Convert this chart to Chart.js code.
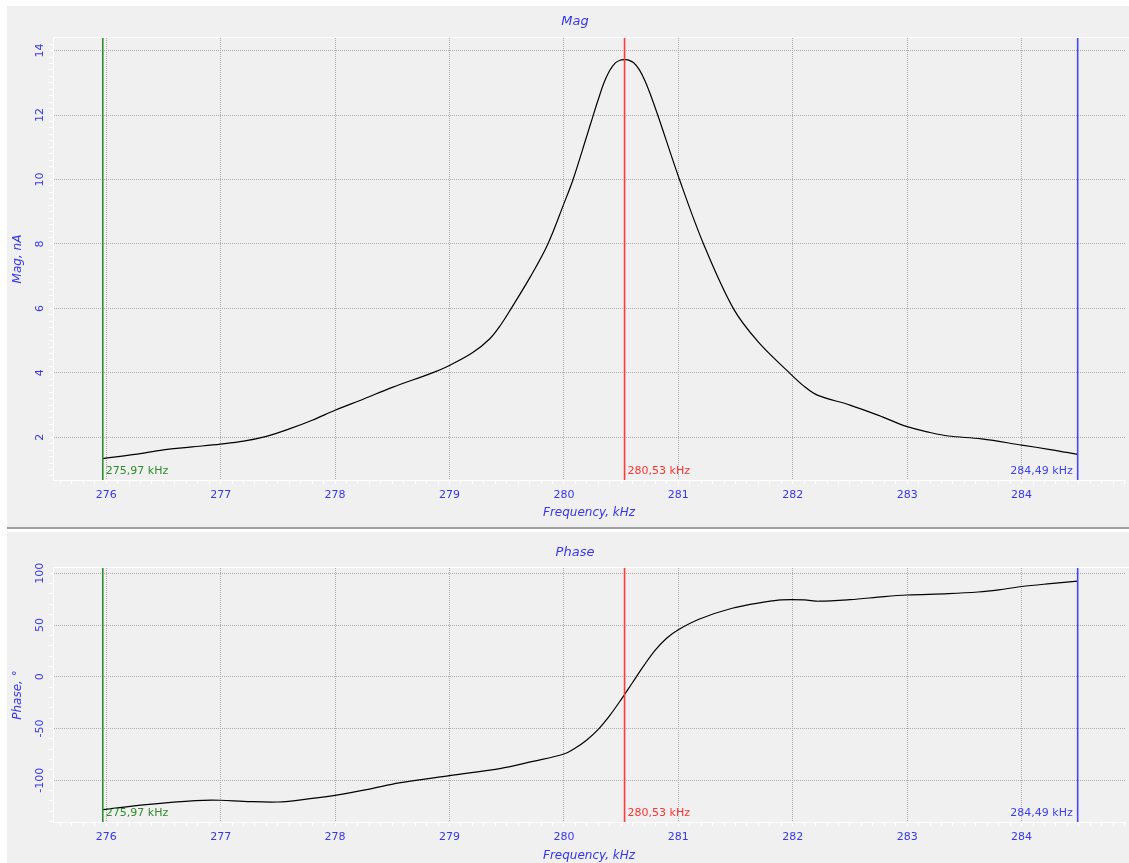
<!DOCTYPE html>
<html>
<head>
<meta charset="utf-8">
<title>Mag / Phase</title>
<script src="https://cdn.jsdelivr.net/npm/chart.js@4/dist/chart.umd.min.js"></script>
<style>
  html, body { margin: 0; padding: 0; background: #ffffff; width: 1129px; height: 863px; overflow: hidden; }
  .panel { position: absolute; left: 7px; width: 1122px; background: #f0f0f0; }
  #panelMag { top: 6px; height: 521px; }
  #panelPhase { top: 532px; height: 331px; }
  #split { position: absolute; left: 7px; top: 527px; width: 1122px; height: 2px; background: #a0a0a0; }
  canvas { display: block; }
</style>
</head>
<body>
<div class="panel" id="panelMag"><canvas id="magChart" width="1122" height="521"></canvas></div>
<div id="split"></div>
<div class="panel" id="panelPhase"><canvas id="phaseChart" width="1122" height="331"></canvas></div>

<script>
// Frequency sweep, kHz
const magFreq = [275.97, 276.25, 276.5, 276.75, 277.0, 277.2, 277.4, 277.6, 277.8, 278.0, 278.25, 278.5, 278.85, 279.0, 279.2, 279.35, 279.45, 279.54, 279.71, 279.86, 280.0, 280.08, 280.20, 280.25, 280.30, 280.35, 280.40, 280.45, 280.50, 280.53, 280.56, 280.61, 280.66, 280.71, 280.76, 280.82, 281.01, 281.22, 281.48, 281.7, 281.97, 282.1, 282.22, 282.5, 282.75, 283.0, 283.2, 283.36, 283.65, 284.0, 284.25, 284.49];
// Magnitude, nA
const magValues = [1.34, 1.47, 1.61, 1.70, 1.79, 1.88, 2.03, 2.26, 2.53, 2.84, 3.19, 3.55, 4.00, 4.23, 4.62, 5.05, 5.50, 6.00, 7.00, 8.00, 9.25, 10.00, 11.35, 11.92, 12.48, 13.00, 13.38, 13.62, 13.71, 13.72, 13.71, 13.62, 13.40, 13.05, 12.60, 12.00, 10.00, 8.00, 6.00, 4.95, 4.00, 3.58, 3.30, 3.00, 2.68, 2.33, 2.15, 2.04, 1.95, 1.76, 1.62, 1.47];

const phaseFreq = [275.97, 276.35, 276.78, 277.0, 277.2, 277.5, 277.8, 278.0, 278.3, 278.56, 279.0, 279.44, 279.73, 280.0, 280.1, 280.2, 280.3, 280.4, 280.5, 280.6, 280.7, 280.8, 280.9, 281.0, 281.18, 281.47, 281.76, 281.9, 282.1, 282.23, 282.5, 282.8, 283.0, 283.36, 283.62, 283.8, 284.0, 284.25, 284.49];
// Phase, degrees
const phaseValues = [-128.3, -123.5, -119.6, -119.3, -120.3, -121.0, -117.5, -114.5, -108.5, -102.5, -95.5, -88.7, -81.7, -74.6, -68.8, -61.0, -50.8, -37.5, -22.0, -5.5, 11.0, 26.0, 37.5, 45.5, 55.6, 66.2, 72.3, 74.3, 74.3, 73.0, 74.5, 77.5, 79.0, 80.3, 81.9, 84.0, 87.2, 90.0, 92.4];

// Cursor markers, kHz
const markerFreqs = [275.97, 280.53, 284.49];
const markerColors = ['#2f8f2f', '#ff3c3c', '#4646ff'];
const markerTextColors = ['#2e8a2e', '#ff3333', '#3f3ff5'];

// Axis ranges
const freqRange = [275.535, 284.905];
const magRange = [0.675, 14.39];
const phaseRange = [-140.3, 105.1];

const FONT = '"DejaVu Sans", "Liberation Sans", sans-serif';
const BLUE = '#3636f2';
const GRID = '#ababab';

function isMajor(v, step) {
  const q = v / step;
  return Math.abs(q - Math.round(q)) < 1e-6;
}

function markerLabel(f) {
  return f.toFixed(2).replace('.', ',') + ' kHz';
}

// Draws the panel caption, the upper frame edge and the cursor captions
const panelDecor = {
  id: 'panelDecor',
  afterDraw(chart, args, opts) {
    const { ctx, chartArea: a, scales } = chart;
    ctx.save();
    ctx.strokeStyle = '#ffffff';
    ctx.lineWidth = 1;
    ctx.beginPath();
    const ty = Math.round(a.top) - 0.5;
    ctx.moveTo(a.left, ty);
    ctx.lineTo(chart.width, ty);
    ctx.stroke();

    ctx.font = 'italic 13px ' + FONT;
    ctx.fillStyle = BLUE;
    ctx.textAlign = 'center';
    ctx.textBaseline = 'middle';
    ctx.fillText(opts.title, opts.titleX, opts.titleY);

    ctx.font = '11px ' + FONT;
    ctx.textBaseline = 'alphabetic';
    markerFreqs.forEach((f, i) => {
      const x = scales.x.getPixelForValue(f);
      const last = i === markerFreqs.length - 1;
      ctx.fillStyle = markerTextColors[i];
      ctx.textAlign = last ? 'right' : 'left';
      ctx.fillText(markerLabel(f), last ? x - 5 : x + 3, a.bottom - 6);
    });
    ctx.restore();
  }
};

function buildChart(id, opt) {
  const curve = opt.freq.map((f, i) => ({ x: f, y: opt.values[i] }));
  const markers = markerFreqs.map((f, i) => ({
    data: [{ x: f, y: opt.range[0] }, { x: f, y: opt.range[1] }],
    borderColor: markerColors[i],
    borderWidth: 1.6,
    pointRadius: 0,
    tension: 0,
    order: 0
  }));
  return new Chart(document.getElementById(id), {
    type: 'line',
    data: {
      datasets: [
        ...markers,
        {
          data: curve,
          borderColor: '#000000',
          borderWidth: 1.2,
          pointRadius: 0,
          tension: 0.35,
          order: 1
        }
      ]
    },
    plugins: [panelDecor],
    options: {
      responsive: false,
      animation: false,
      events: [],
      layout: { padding: { top: opt.top, right: 2, left: 0, bottom: 0 } },
      plugins: {
        legend: { display: false },
        tooltip: { enabled: false },
        panelDecor: { title: opt.title, titleX: 568, titleY: opt.titleY }
      },
      scales: {
        x: {
          type: 'linear',
          min: freqRange[0],
          max: freqRange[1],
          afterFit(s) { s.height = opt.xHeight; },
          border: { display: true, color: '#ffffff', width: 1, dash: [1, 1] },
          grid: {
            color: c => (c.tick && isMajor(c.tick.value, 1)) ? GRID : 'rgba(0,0,0,0)',
            tickColor: '#ffffff',
            tickLength: 4,
            lineWidth: 1
          },
          ticks: {
            stepSize: 0.1,
            includeBounds: false,
            autoSkip: false,
            minRotation: 0,
            maxRotation: 0,
            padding: 4.4,
            color: BLUE,
            font: { family: FONT, size: 11 },
            callback: v => isMajor(v, 1) ? String(Math.round(v)) : ''
          },
          title: {
            display: true,
            text: 'Frequency, kHz',
            color: BLUE,
            font: { family: FONT, size: 12, style: 'italic' },
            padding: { top: 0, bottom: opt.xTitlePad }
          }
        },
        y: {
          type: 'linear',
          min: opt.range[0],
          max: opt.range[1],
          afterFit(s) { s.width = 46; },
          border: { display: true, color: '#ffffff', width: 1, dash: [1, 1] },
          grid: {
            color: c => (c.tick && isMajor(c.tick.value, opt.major)) ? GRID : 'rgba(0,0,0,0)',
            tickColor: '#ffffff',
            tickLength: 4,
            lineWidth: 1
          },
          ticks: {
            stepSize: opt.minor,
            includeBounds: false,
            autoSkip: false,
            minRotation: 90,
            maxRotation: 90,
            crossAlign: 'center',
            padding: opt.yTickPad,
            color: BLUE,
            font: { family: FONT, size: 11 },
            callback: v => isMajor(v, opt.major) ? String(Math.round(v)) : ''
          },
          title: {
            display: true,
            text: opt.yTitle,
            color: BLUE,
            font: { family: FONT, size: 12, style: 'italic' },
            padding: { top: 3.5, bottom: 0 }
          }
        }
      }
    }
  });
}

buildChart('magChart', {
  freq: magFreq, values: magValues, range: magRange,
  major: 2, minor: 0.2, yTitle: 'Mag, nA', title: 'Mag',
  top: 32, titleY: 16, xHeight: 47, xTitlePad: 6.5, yTickPad: 2
});

buildChart('phaseChart', {
  freq: phaseFreq, values: phaseValues, range: phaseRange,
  major: 50, minor: 10, yTitle: 'Phase, \u00b0', title: 'Phase',
  top: 36, titleY: 20.5, xHeight: 41, xTitlePad: 0, yTickPad: -3.8
});
</script>
</body>
</html>
